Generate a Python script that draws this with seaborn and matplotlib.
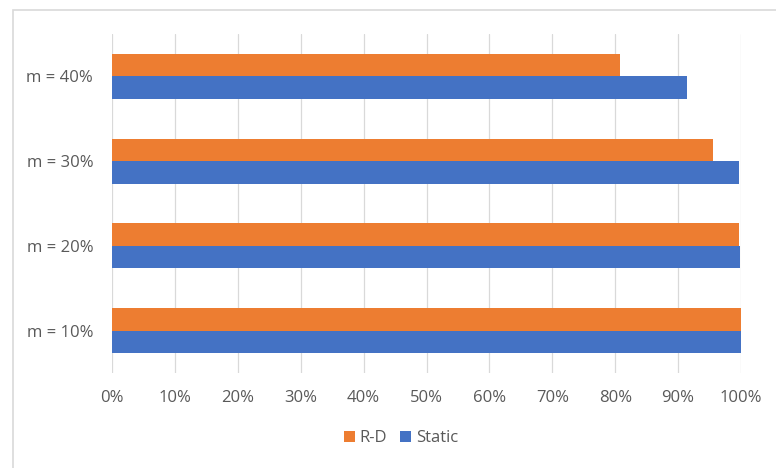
import matplotlib
matplotlib.use("Agg")
import matplotlib.pyplot as plt
import seaborn as sns
import pandas as pd
from matplotlib.patches import Rectangle, Patch
from matplotlib.ticker import FuncFormatter, MultipleLocator

categories = ["m = 40%", "m = 30%", "m = 20%", "m = 10%"]
rd_values = [80.8, 95.6, 99.7, 100.0]
static_values = [91.4, 99.7, 99.9, 100.0]
series_names = ["R-D", "Static"]
colors = ["#ED7D31", "#4472C4"]

df = pd.DataFrame({
    "category": categories * 2,
    "value": rd_values + static_values,
    "series": [series_names[0]] * 4 + [series_names[1]] * 4,
})

sns.set_theme(style="white")
plt.rcParams["font.family"] = ["Open Sans", "DejaVu Sans"]

fig = plt.figure(figsize=(7.76, 4.68), dpi=100)
fig.patch.set_facecolor("white")
ax = fig.add_axes([112 / 776, 1 - 373 / 468, (741 - 112) / 776, (373 - 34) / 468])

sns.barplot(data=df, y="category", x="value", hue="series", order=categories,
            hue_order=series_names, palette=colors, orient="h", width=0.53,
            saturation=1, ax=ax, legend=False, zorder=3, linewidth=0,
            edgecolor="none")

ax.set_xlim(0, 100)
ax.set_ylim(3.5, -0.5)
ax.xaxis.set_major_locator(MultipleLocator(10))
ax.xaxis.set_major_formatter(FuncFormatter(lambda v, p: f"{int(round(v))}%"))
ax.grid(axis="x", color="#d9d9d9", linewidth=0.9, zorder=0)
ax.grid(axis="y", visible=False)
for s in ax.spines.values():
    s.set_visible(False)
ax.set_xlabel("")
ax.set_ylabel("")
ax.tick_params(axis="x", length=0, pad=12, labelsize=12, labelcolor="#595959")
ax.tick_params(axis="y", length=0, pad=13.5, labelsize=12, labelcolor="#595959")

# chart area border
fig.patches.append(Rectangle((13 / 776, -0.05), 1.0, 1 - 10 / 468 + 0.05,
                             transform=fig.transFigure, fill=False,
                             edgecolor="#d9d9d9", linewidth=1.2, zorder=0))

handles = [Patch(facecolor=c, edgecolor="none", label=n) for c, n in zip(colors, series_names)]
fig.legend(handles=handles, loc="center", bbox_to_anchor=(401 / 776, 1 - 438 / 468),
           ncol=2, frameon=False, fontsize=12, handlelength=0.65, handleheight=0.65,
           handletextpad=0.3, columnspacing=0.8, labelcolor="#595959")

fig.savefig("out.png", dpi=100)
